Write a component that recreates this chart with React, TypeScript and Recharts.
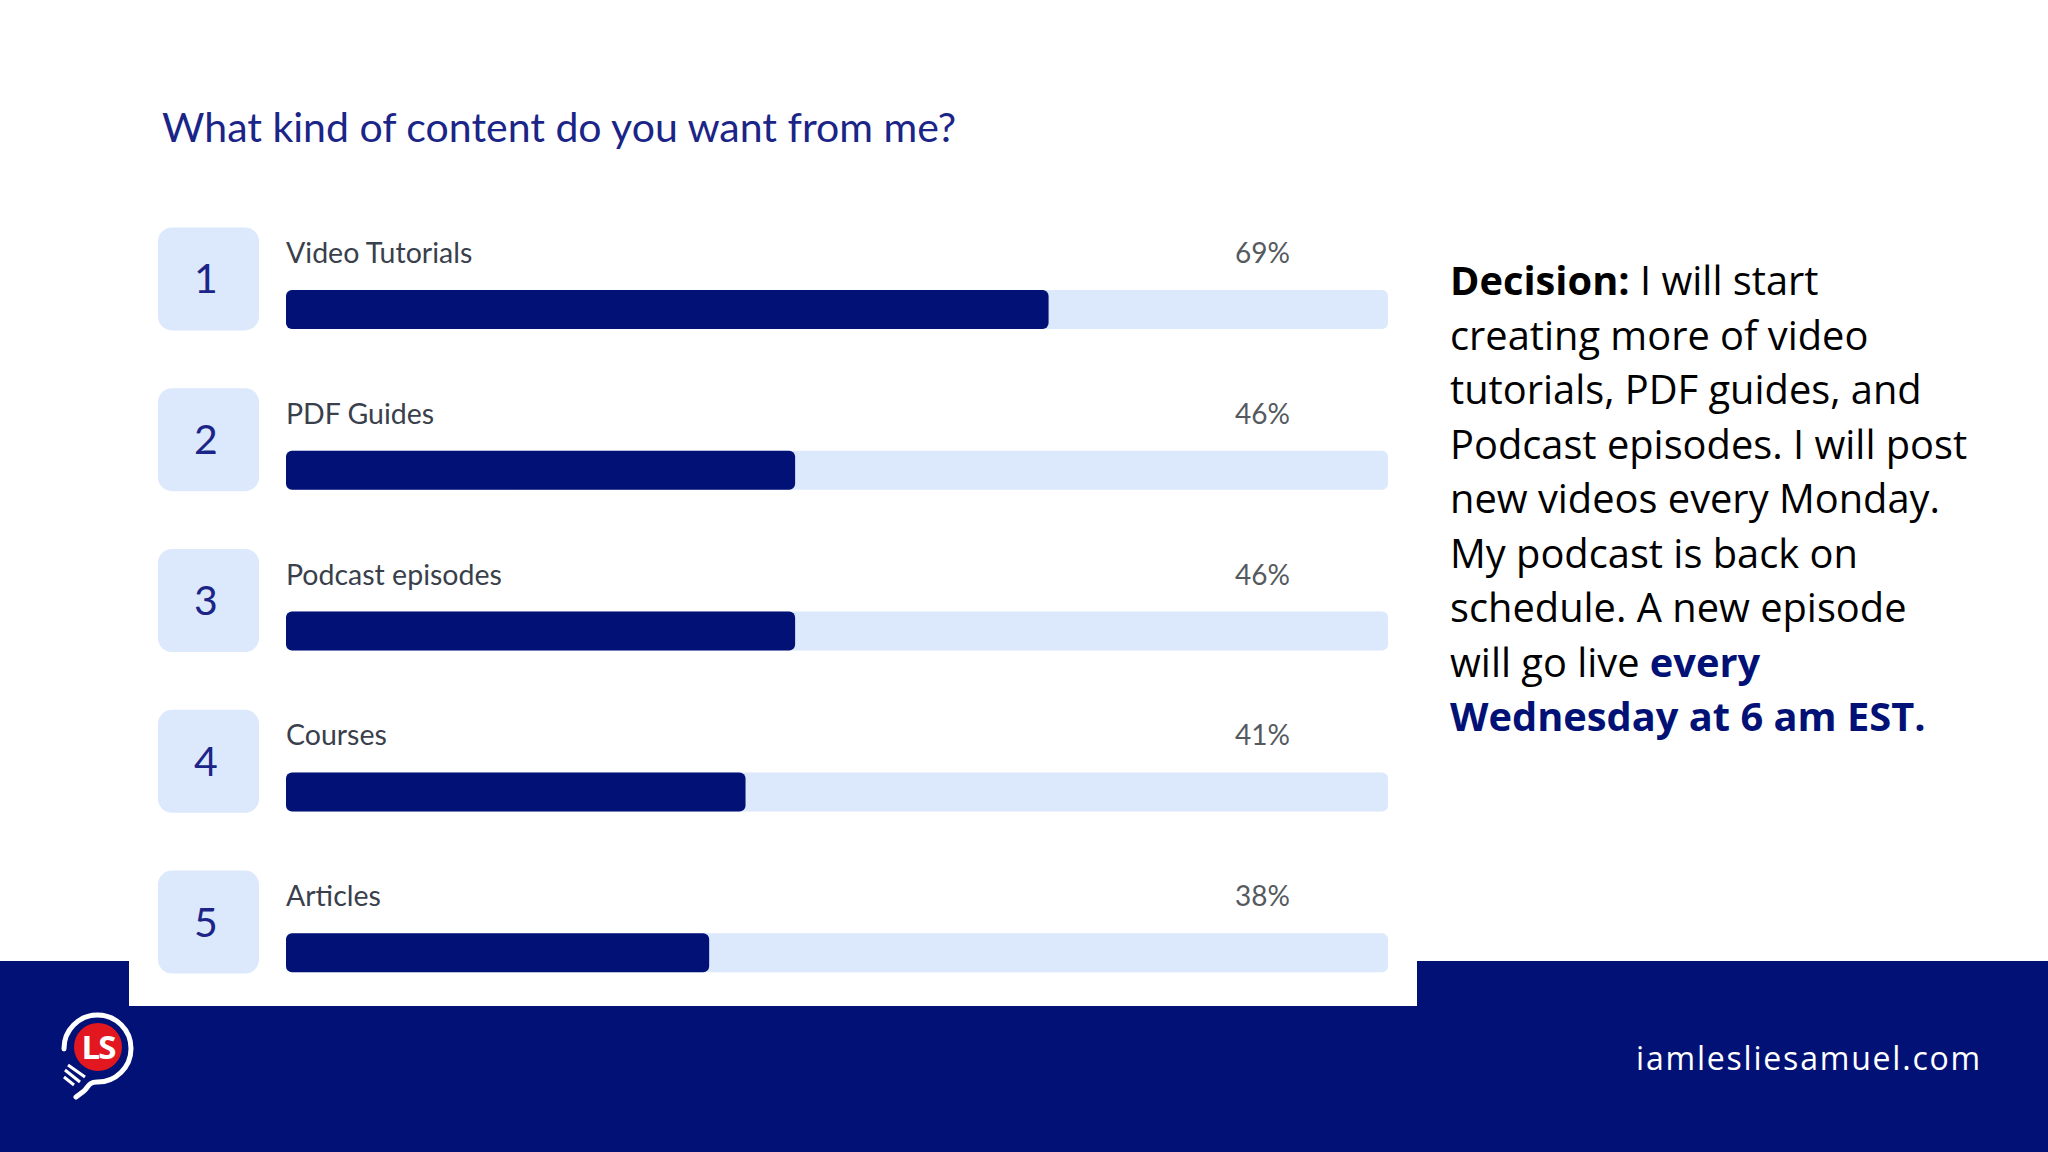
import React from 'react';
import { BarChart, Bar, XAxis, YAxis, LabelList } from 'recharts';

const ranks = ['1', '2', '3', '4', '5'];
const categories = ['Video Tutorials', 'PDF Guides', 'Podcast episodes', 'Courses', 'Articles'];
// bar lengths as measured, the poll shows them rounded
const barValues = [69.2, 46.2, 46.2, 41.7, 38.4];
const percentLabels = ['69%', '46%', '46%', '41%', '38%'];

const chartData = categories.map((name, i) => ({
  rank: ranks[i],
  name,
  share: barValues[i],
  label: percentLabels[i],
}));

const NAVY = '#021175';
const PALE = '#DCE8FB';
const labelFont = 'Lato, "Noto Sans", sans-serif';
const bodyFont = '"Open Sans", sans-serif';

const RankTick = ({ y, payload }: any) => (
  <g>
    <rect x={158} y={y - 82} width={101} height={103} rx={14} fill={PALE} />
    <text x={206} y={y - 16} textAnchor="middle" fontFamily={labelFont} fontSize={41} fill="#1b2587">
      {payload.value}
    </text>
  </g>
);

const NameLabel = ({ x, y, value }: any) => (
  <text x={x} y={y - 27} fontFamily={labelFont} fontSize={28.5} fill="#3a3f4c">
    {value}
  </text>
);

const PercentLabel = ({ y, value }: any) => (
  <text x={1235} y={y - 27} fontFamily={labelFont} fontSize={28} fill="#555a60">
    {value}
  </text>
);

function Logo() {
  return (
    <svg width={160} height={130} viewBox="40 1000 160 130" style={{ position: 'absolute', left: 40, top: 1000 }}>
      <path
        d="M 64 1049 A 33.5 33.5 0 1 1 97 1082 C 88 1082 88 1088 84 1091 L 76 1097"
        fill="none"
        stroke="#fff"
        strokeWidth={5}
        strokeLinecap="round"
      />
      <path d="M 64 1077 L 74 1085 M 65 1070 L 80 1082 M 68 1065 L 85 1077" stroke="#fff" strokeWidth={3} />
      <circle cx={98} cy={1047} r={24} fill="#E3171F" />
      <text x={98} y={1059} textAnchor="middle" fontFamily={bodyFont} fontWeight={700} fontSize={33} fill="#fff" letterSpacing={-2}>
        LS
      </text>
    </svg>
  );
}

export default function App() {
  return (
    <div style={{ position: 'absolute', left: 0, top: 0, width: 2048, height: 1152, background: '#fff', overflow: 'hidden' }}>
      <div style={{ position: 'absolute', left: 0, top: 961, width: 2048, height: 191, background: NAVY }} />
      <div style={{ position: 'absolute', left: 129, top: 900, width: 1288, height: 106, background: '#fff' }} />

      <div
        style={{
          position: 'absolute',
          left: 162,
          top: 101,
          fontFamily: labelFont,
          fontSize: 41,
          lineHeight: '52px',
          color: '#1b2587',
          whiteSpace: 'nowrap',
        }}
      >
        What kind of content do you want from me?
      </div>

      <div style={{ position: 'absolute', left: 0, top: 0 }}>
        <BarChart
          width={2048}
          height={1152}
          data={chartData}
          layout="vertical"
          margin={{ top: 229, right: 660, bottom: 119, left: 158 }}
        >
          <XAxis type="number" domain={[0, 100]} hide />
          <YAxis
            type="category"
            dataKey="rank"
            width={128}
            axisLine={false}
            tickLine={false}
            interval={0}
            tick={<RankTick />}
          />
          <Bar
            dataKey="share"
            barSize={39}
            fill={NAVY}
            radius={6}
            background={{ fill: PALE, radius: 6 }}
            isAnimationActive={false}
          >
            <LabelList dataKey="name" content={<NameLabel />} />
            <LabelList dataKey="label" content={<PercentLabel />} />
          </Bar>
        </BarChart>
      </div>

      <div
        style={{
          position: 'absolute',
          left: 1450,
          top: 253,
          fontFamily: bodyFont,
          fontSize: 39.8,
          lineHeight: '54.5px',
          color: '#000',
          whiteSpace: 'nowrap',
        }}
      >
        <b>Decision:</b> I will start
        <br />
        creating more of video
        <br />
        tutorials, PDF guides, and
        <br />
        Podcast episodes. I will post
        <br />
        new videos every Monday.
        <br />
        My podcast is back on
        <br />
        schedule. A new episode
        <br />
        will go live <b style={{ color: NAVY }}>every</b>
        <br />
        <b style={{ color: NAVY }}>Wednesday at 6 am EST.</b>
      </div>

      <Logo />

      <div
        style={{
          position: 'absolute',
          left: 1636,
          top: 1036,
          fontFamily: bodyFont,
          fontSize: 32,
          lineHeight: '44px',
          letterSpacing: 1.8,
          color: '#fff',
          whiteSpace: 'nowrap',
        }}
      >
        iamlesliesamuel.com
      </div>
    </div>
  );
}
